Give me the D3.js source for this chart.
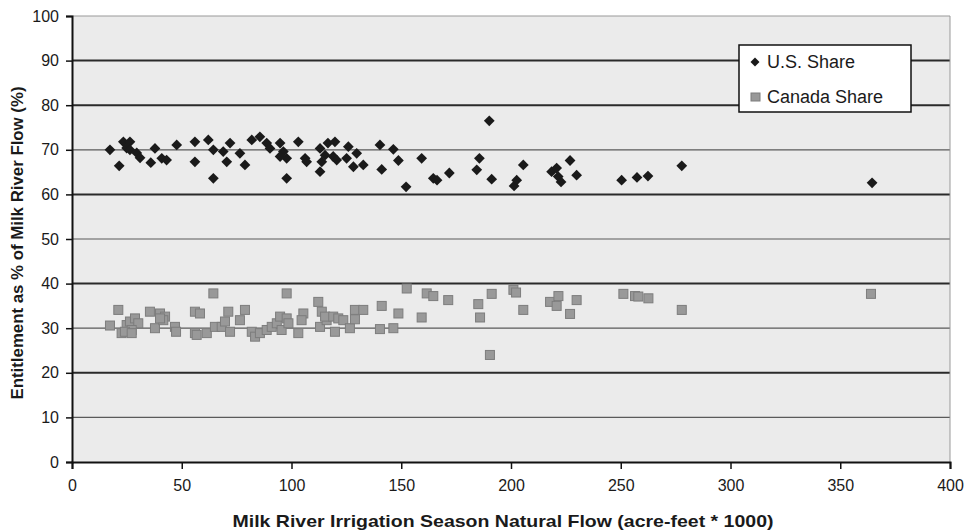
<!DOCTYPE html>
<html>
<head>
<meta charset="utf-8">
<script src="https://cdn.jsdelivr.net/npm/d3@7"></script>
<style>
  body { margin: 0; background: #fff; }
  svg text { font-family: "Liberation Sans", Arial, sans-serif; fill: #1a1a1a; }
</style>
</head>
<body>
<div id="chart"></div>
<script>
// U.S. share: natural flow (acre-feet * 1000) and entitlement (%)
const usFlow = [17.3, 21.5, 23.4, 26.4, 24.9, 26.4, 29.5, 31.0, 35.9, 37.8, 40.9, 43.1, 47.7, 56.0, 56.0,
  62.1, 64.4, 64.4, 68.9, 70.5, 72.0, 76.5, 78.8, 81.9, 85.6, 88.7, 90.2, 94.8, 96.3, 97.8, 94.8, 97.8,
  103.1, 106.2, 106.9, 113.0, 113.8, 113.0, 116.6, 115.3, 119.8, 119.0, 120.6, 125.9, 125.1, 129.7,
  128.2, 132.7, 140.3, 146.4, 141.1, 148.7, 152.2, 159.3, 164.6, 166.3, 171.9, 184.4, 185.6, 190.1,
  191.2, 201.4, 202.6, 205.6, 218.5, 220.8, 221.5, 222.8, 226.9, 229.9, 250.4, 257.4, 262.4, 277.8, 364.5];
const usShare = [70.0, 66.4, 71.8, 71.8, 70.4, 70.0, 69.3, 68.2, 67.1, 70.3, 68.1, 67.7, 71.1, 71.8, 67.3,
  72.2, 70.0, 63.6, 69.6, 67.3, 71.5, 69.2, 66.6, 72.2, 72.9, 71.5, 70.3, 71.5, 69.6, 68.1, 68.5, 63.6,
  71.8, 68.1, 67.3, 70.3, 67.3, 65.1, 71.5, 68.8, 71.8, 68.5, 67.7, 70.7, 68.1, 69.2,
  66.2, 66.6, 71.1, 70.1, 65.6, 67.6, 61.7, 68.1, 63.6, 63.2, 64.8, 65.5, 68.1, 76.5,
  63.4, 61.9, 63.2, 66.6, 65.1, 65.9, 64.0, 62.8, 67.6, 64.3, 63.2, 63.8, 64.1, 66.4, 62.6];

// Canada share
const caFlow = [17.3, 21.1, 22.6, 24.9, 26.4, 28.7, 30.2, 27.2, 24.1, 27.2, 35.5, 37.8, 40.1, 42.4, 41.6,
  40.1, 46.9, 47.4, 56.0, 56.0, 58.3, 56.8, 61.4, 64.4, 65.1, 68.2, 69.7, 71.2, 72.0, 78.8, 76.5, 81.9,
  83.4, 85.6, 88.7, 91.0, 93.3, 94.8, 97.8, 95.5, 97.8, 98.6, 103.1, 105.4, 104.6, 112.2, 113.8, 113.0,
  116.0, 115.3, 119.8, 119.0, 121.3, 123.6, 126.6, 128.9, 132.7, 128.9, 141.1, 140.3, 146.4, 148.7,
  152.5, 159.3, 161.6, 164.6, 171.4, 185.1, 185.9, 191.2, 190.4, 201.1, 202.3, 205.6, 217.8, 221.6,
  220.8, 226.9, 229.9, 251.2, 256.5, 258.0, 262.6, 277.8, 364.0];
const caShare = [30.6, 34.1, 28.9, 30.7, 31.5, 32.2, 31.1, 29.6, 29.2, 28.9, 33.7, 30.0, 33.3, 32.6, 31.8,
  32.2, 30.3, 29.2, 33.7, 28.9, 33.3, 28.5, 28.9, 37.8, 30.3, 30.3, 31.5, 33.7, 29.2, 34.1, 31.8, 29.2,
  28.1, 28.9, 29.6, 30.3, 31.1, 32.6, 37.8, 29.6, 32.2, 31.1, 28.9, 33.3, 31.8, 35.9, 33.7, 30.3,
  31.8, 32.6, 29.2, 32.6, 32.2, 31.8, 30.0, 34.1, 34.1, 32.0, 35.0, 29.8, 30.0, 33.3,
  38.9, 32.4, 37.8, 37.2, 36.3, 35.4, 32.4, 37.7, 24.0, 38.6, 38.0, 34.1, 35.9, 37.2,
  35.0, 33.2, 36.3, 37.7, 37.2, 37.1, 36.7, 34.1, 37.7];

const xTicks = [0, 50, 100, 150, 200, 250, 300, 350, 400];
const yTicks = [0, 10, 20, 30, 40, 50, 60, 70, 80, 90, 100];
const seriesNames = ["U.S. Share", "Canada Share"];

const width = 966, height = 531;
const margin = {left: 72, right: 16, top: 16, bottom: 69};

const svg = d3.select('#chart').append('svg')
  .attr('width', width)
  .attr('height', height);

const x = d3.scaleLinear().domain([0, 400]).range([margin.left, width - margin.right]);
const y = d3.scaleLinear().domain([0, 100]).range([height - margin.bottom, margin.top]);

// plot background
svg.append('rect')
  .attr('x', x(0)).attr('y', y(100))
  .attr('width', x(400) - x(0)).attr('height', y(0) - y(100))
  .attr('fill', '#ebebeb');

// gridlines, every other one looks heavier in the original
svg.append('g').selectAll('line')
  .data(yTicks.filter(d => d > 0))
  .join('line')
  .attr('x1', x(0)).attr('x2', x(400))
  .attr('y1', d => y(d)).attr('y2', d => y(d))
  .attr('stroke', d => d === 100 ? '#999' : (d % 20 === 0 || d === 90 ? '#2a2a2a' : '#5a5a5a'))
  .attr('stroke-width', d => d === 100 ? 1 : (d % 20 === 0 || d === 90 ? 2 : 1.2));

// right border
svg.append('line')
  .attr('x1', x(400)).attr('x2', x(400))
  .attr('y1', y(100)).attr('y2', y(0))
  .attr('stroke', '#999');

// axes
const xAxis = svg.append('g')
  .attr('transform', `translate(0,${y(0)})`)
  .call(d3.axisBottom(x).tickValues(xTicks).tickSize(7).tickPadding(11).tickFormat(d3.format('d')));
const yAxis = svg.append('g')
  .attr('transform', `translate(${x(0)},0)`)
  .call(d3.axisLeft(y).tickValues(yTicks).tickSize(6).tickPadding(7).tickFormat(d3.format('d')));

[xAxis, yAxis].forEach(a => {
  a.select('.domain').attr('stroke', '#111').attr('stroke-width', 2);
  a.selectAll('.tick line').attr('stroke', '#111').attr('stroke-width', 1.5);
  a.selectAll('.tick text').style('font-size', '16px').attr('fill', '#1a1a1a');
});

// Canada squares
svg.append('g').selectAll('rect')
  .data(caFlow.map((f, i) => ({f, v: caShare[i]})))
  .join('rect')
  .attr('x', d => x(d.f) - 4.5)
  .attr('y', d => y(d.v) - 4.5)
  .attr('width', 9).attr('height', 9)
  .attr('fill', '#999')
  .attr('stroke', '#7d7d7d')
  .attr('stroke-width', 1);

// U.S. diamonds
const diamond = d3.symbol().type(d3.symbolSquare).size(58);
svg.append('g').selectAll('path')
  .data(usFlow.map((f, i) => ({f, v: usShare[i]})))
  .join('path')
  .attr('d', diamond)
  .attr('transform', d => `translate(${x(d.f)},${y(d.v)}) rotate(45)`)
  .attr('fill', '#1a1a1a');

// legend
const legend = svg.append('g').attr('transform', 'translate(739,45)');
legend.append('rect')
  .attr('width', 172).attr('height', 67)
  .attr('fill', '#fff').attr('stroke', '#111').attr('stroke-width', 1.5);
legend.append('path')
  .attr('d', d3.symbol().type(d3.symbolSquare).size(40))
  .attr('transform', 'translate(16,17) rotate(45)')
  .attr('fill', '#1a1a1a');
legend.append('rect')
  .attr('x', 12).attr('y', 48).attr('width', 9).attr('height', 8)
  .attr('fill', '#999').attr('stroke', '#7d7d7d');
legend.selectAll('text.lbl')
  .data(seriesNames)
  .join('text')
  .attr('class', 'lbl')
  .attr('x', 28)
  .attr('y', (d, i) => 23 + i * 35)
  .style('font-size', '18px')
  .text(d => d);

// axis titles
svg.append('text')
  .attr('x', 503)
  .attr('y', 527)
  .attr('text-anchor', 'middle')
  .attr('textLength', 541)
  .attr('lengthAdjust', 'spacingAndGlyphs')
  .style('font-size', '17px')
  .style('font-weight', 'bold')
  .text('Milk River Irrigation Season Natural Flow  (acre-feet * 1000)');

svg.append('text')
  .attr('transform', `translate(23,${(y(0) + y(100)) / 2 + 4}) rotate(-90)`)
  .attr('text-anchor', 'middle')
  .attr('textLength', 313)
  .attr('lengthAdjust', 'spacingAndGlyphs')
  .style('font-size', '16px')
  .style('font-weight', 'bold')
  .text('Entitlement as % of Milk River Flow  (%)');
</script>
</body>
</html>
